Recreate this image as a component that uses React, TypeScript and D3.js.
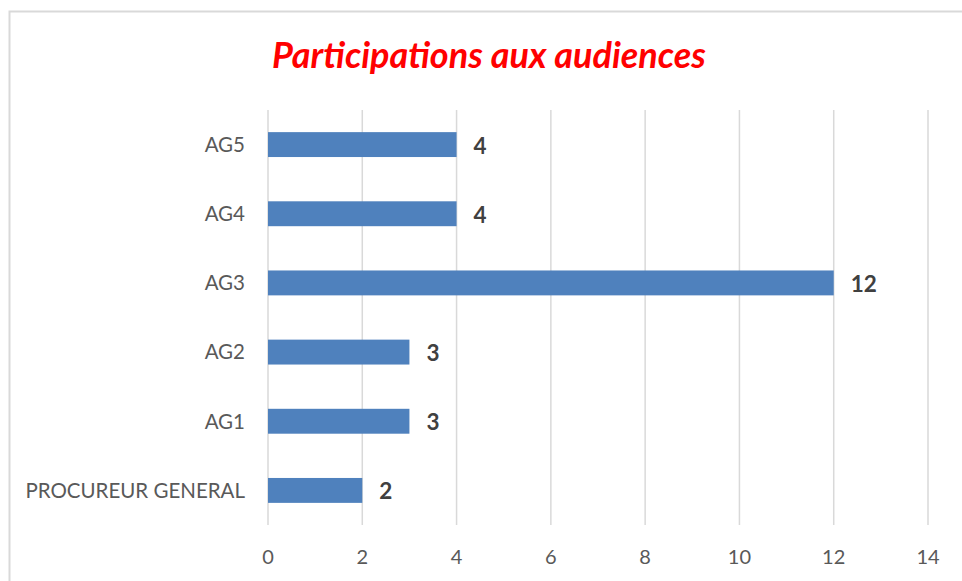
import * as d3 from 'd3';
import React, { useRef, useEffect } from 'react';

const categories = ['PROCUREUR GENERAL', 'AG1', 'AG2', 'AG3', 'AG4', 'AG5'];
const values = [2, 3, 3, 12, 4, 4];
const xTicks = [0, 2, 4, 6, 8, 10, 12, 14];
const title = 'Participations aux audiences';

const W = 962;
const H = 581;
const FONT = 'Lato, "Open Sans", sans-serif';

function App() {
    const ref = useRef<SVGSVGElement>(null);

    useEffect(() => {
        const svg = d3.select(ref.current);
        svg.selectAll('*').remove();

        const x = d3.scaleLinear().domain([0, 14]).range([268, 928]);
        const y = d3.scaleBand()
            .domain(categories.slice().reverse())
            .range([110, 525])
            .paddingInner(0.64)
            .paddingOuter(0.32);

        // outer frame (cropped on the right and bottom)
        svg.append('rect')
            .attr('x', 9.5).attr('y', 11.5)
            .attr('width', 1000).attr('height', 1000)
            .attr('fill', 'white')
            .attr('stroke', '#d9d9d9')
            .attr('stroke-width', 2);

        // title
        svg.append('text')
            .attr('x', 489).attr('y', 68)
            .attr('text-anchor', 'middle')
            .attr('font-family', FONT)
            .attr('font-size', 36)
            .attr('font-weight', 'bold')
            .attr('font-style', 'italic')
            .attr('fill', '#ff0000')
            .text(title);

        // gridlines
        svg.append('g')
            .selectAll('line')
            .data(xTicks)
            .join('line')
            .attr('x1', d => x(d)).attr('x2', d => x(d))
            .attr('y1', 110).attr('y2', 525)
            .attr('stroke', '#d9d9d9')
            .attr('stroke-width', 1.5);

        // x tick labels
        svg.append('g')
            .selectAll('text')
            .data(xTicks)
            .join('text')
            .attr('x', d => x(d))
            .attr('y', 564)
            .attr('text-anchor', 'middle')
            .attr('font-family', FONT)
            .attr('font-size', 20)
            .attr('fill', '#595959')
            .text(d => d);

        // bars
        svg.append('g')
            .selectAll('rect')
            .data(categories)
            .join('rect')
            .attr('x', x(0))
            .attr('y', d => y(d)!)
            .attr('width', (d, i) => x(values[i]) - x(0))
            .attr('height', y.bandwidth())
            .attr('fill', '#4f81bd');

        // value labels
        svg.append('g')
            .selectAll('text')
            .data(categories)
            .join('text')
            .attr('x', (d, i) => x(values[i]) + 17)
            .attr('y', d => y(d)! + y.bandwidth() / 2)
            .attr('dy', '0.4em')
            .attr('font-family', FONT)
            .attr('font-size', 22.5)
            .attr('font-weight', 'bold')
            .attr('fill', '#404040')
            .text((d, i) => values[i]);

        // category labels
        svg.append('g')
            .selectAll('text')
            .data(categories)
            .join('text')
            .attr('x', 245)
            .attr('y', d => y(d)! + y.bandwidth() / 2)
            .attr('dy', '0.36em')
            .attr('text-anchor', 'end')
            .attr('font-family', FONT)
            .attr('font-size', 20.5)
            .attr('fill', '#595959')
            .text(d => d);
    }, []);

    return (
        <svg ref={ref} width={W} height={H} style={{ position: 'absolute', left: 0, top: 0, background: 'white' }}>
        </svg>
    );
}

export default App;
